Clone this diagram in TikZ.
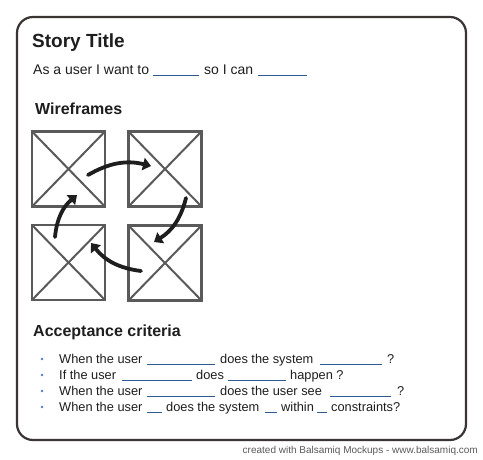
\documentclass[tikz,border=0pt]{standalone}
\usepackage{fontspec}
\setmainfont{Liberation Sans}
\usetikzlibrary{arrows.meta}
\definecolor{ink}{HTML}{1E1E1E}
\definecolor{frame}{HTML}{3A3434}
\definecolor{wire}{HTML}{5A5A5A}
\definecolor{blank}{HTML}{2B5A94}
\definecolor{dot}{HTML}{4A7EC0}
\definecolor{foot}{HTML}{5A5A5A}
\tikzset{
  txt/.style={anchor=base west, inner sep=0pt, text=ink, font=\fontsize{12.8}{15}\selectfont},
  lead/.style={txt, font=\fontsize{14}{16}\selectfont},
  heading/.style={anchor=base west, inner sep=0pt, text=ink, font=\bfseries\fontsize{16}{18}\selectfont},
  titletext/.style={anchor=base west, inner sep=0pt, text=ink, font=\bfseries\fontsize{19}{21}\selectfont},
  blankline/.style={draw=blank, line width=1.1pt},
  wf/.style={draw=wire, line width=2.3pt, minimum width=73pt, minimum height=75pt, inner sep=0pt, outer sep=0pt},
  cross/.style={draw=wire, line width=2pt},
  flow/.style={draw=ink, line width=3.8pt, line cap=round, -{Triangle[length=8pt,width=12.5pt]}},
  bulletdot/.style={circle, fill=dot, inner sep=0pt, minimum size=2.6pt}
}
\begin{document}
\begin{tikzpicture}[x=1pt,y=-1pt]
\useasboundingbox (0,0) rectangle (483,459);
\fill[white] (0,0) rectangle (483,459);

% card outline
\draw[frame, line width=2.2pt, rounded corners=16pt] (17,17) rectangle (466,440);

% header
\node[titletext] (title) at (32,47) {Story Title};
\node[lead] (s1) at (33,74) {As a user I want to};
\draw[blankline] (153,75.5) -- (199,75.5);
\node[lead] (s2) at (204,74) {so I can};
\draw[blankline] (258,75.5) -- (307,75.5);

% wireframes
\node[heading] (wfh) at (35,114) {Wireframes};
\node[wf] (w1) at (68.5,169) {};
\node[wf] (w2) at (165,169) {};
\node[wf] (w3) at (68.5,262.5) {};
\node[wf] (w4) at (165,263) {};
\foreach \w in {w1,w2,w3,w4}{
  \draw[cross] (\w.north west) -- (\w.south east) (\w.north east) -- (\w.south west);
}

\coordinate (a1s) at (88,175);  \coordinate (a1e) at (151,166);
\coordinate (a2s) at (186,198); \coordinate (a2e) at (154,242);
\coordinate (a3s) at (141,271); \coordinate (a3e) at (91,243);
\coordinate (a4s) at (55,237);  \coordinate (a4e) at (77,195);
\draw[flow] (a1s) to[bend left=22] (a1e);
\draw[flow] (a2s) to[bend left=22] (a2e);
\draw[flow] (a3s) to[bend left=22] (a3e);
\draw[flow] (a4s) to[bend left=22] (a4e);

% acceptance criteria
\node[heading] (ach) at (33,336) {Acceptance criteria};

\node[bulletdot] (b1) at (42,359) {};
\node[bulletdot] (b2) at (42,375) {};
\node[bulletdot] (b3) at (42,391) {};
\node[bulletdot] (b4) at (42,407) {};

% row 1
\node[txt] (r1a) at (59,363) {When the user};
\draw[blankline] (147,364.5) -- (215,364.5);
\node[txt] (r1b) at (220,363) {does the system};
\draw[blankline] (320,364.5) -- (382,364.5);
\node[txt] (r1c) at (387,363) {?};

% row 2
\node[txt] (r2a) at (59,379) {If the user};
\draw[blankline] (122,380.5) -- (192,380.5);
\node[txt] (r2b) at (196,379) {does};
\draw[blankline] (228,380.5) -- (286,380.5);
\node[txt] (r2c) at (290,379) {happen ?};

% row 3
\node[txt] (r3a) at (59,395) {When the user};
\draw[blankline] (147,396.5) -- (215,396.5);
\node[txt] (r3b) at (220,395) {does the user see};
\draw[blankline] (330,396.5) -- (391,396.5);
\node[txt] (r3c) at (397,395) {?};

% row 4
\node[txt] (r4a) at (59,411) {When the user};
\draw[blankline] (147,412.5) -- (162,412.5);
\node[txt] (r4b) at (166,411) {does the system};
\draw[blankline] (265,412.5) -- (277,412.5);
\node[txt] (r4c) at (281,411) {within};
\draw[blankline] (317,412.5) -- (327,412.5);
\node[txt] (r4d) at (331,411) {constraints?};

% footer
\node[anchor=base east, inner sep=0pt, text=foot, font=\fontsize{10}{12}\selectfont] (credit) at (478,453) {created with Balsamiq Mockups - www.balsamiq.com};
\end{tikzpicture}
\end{document}
